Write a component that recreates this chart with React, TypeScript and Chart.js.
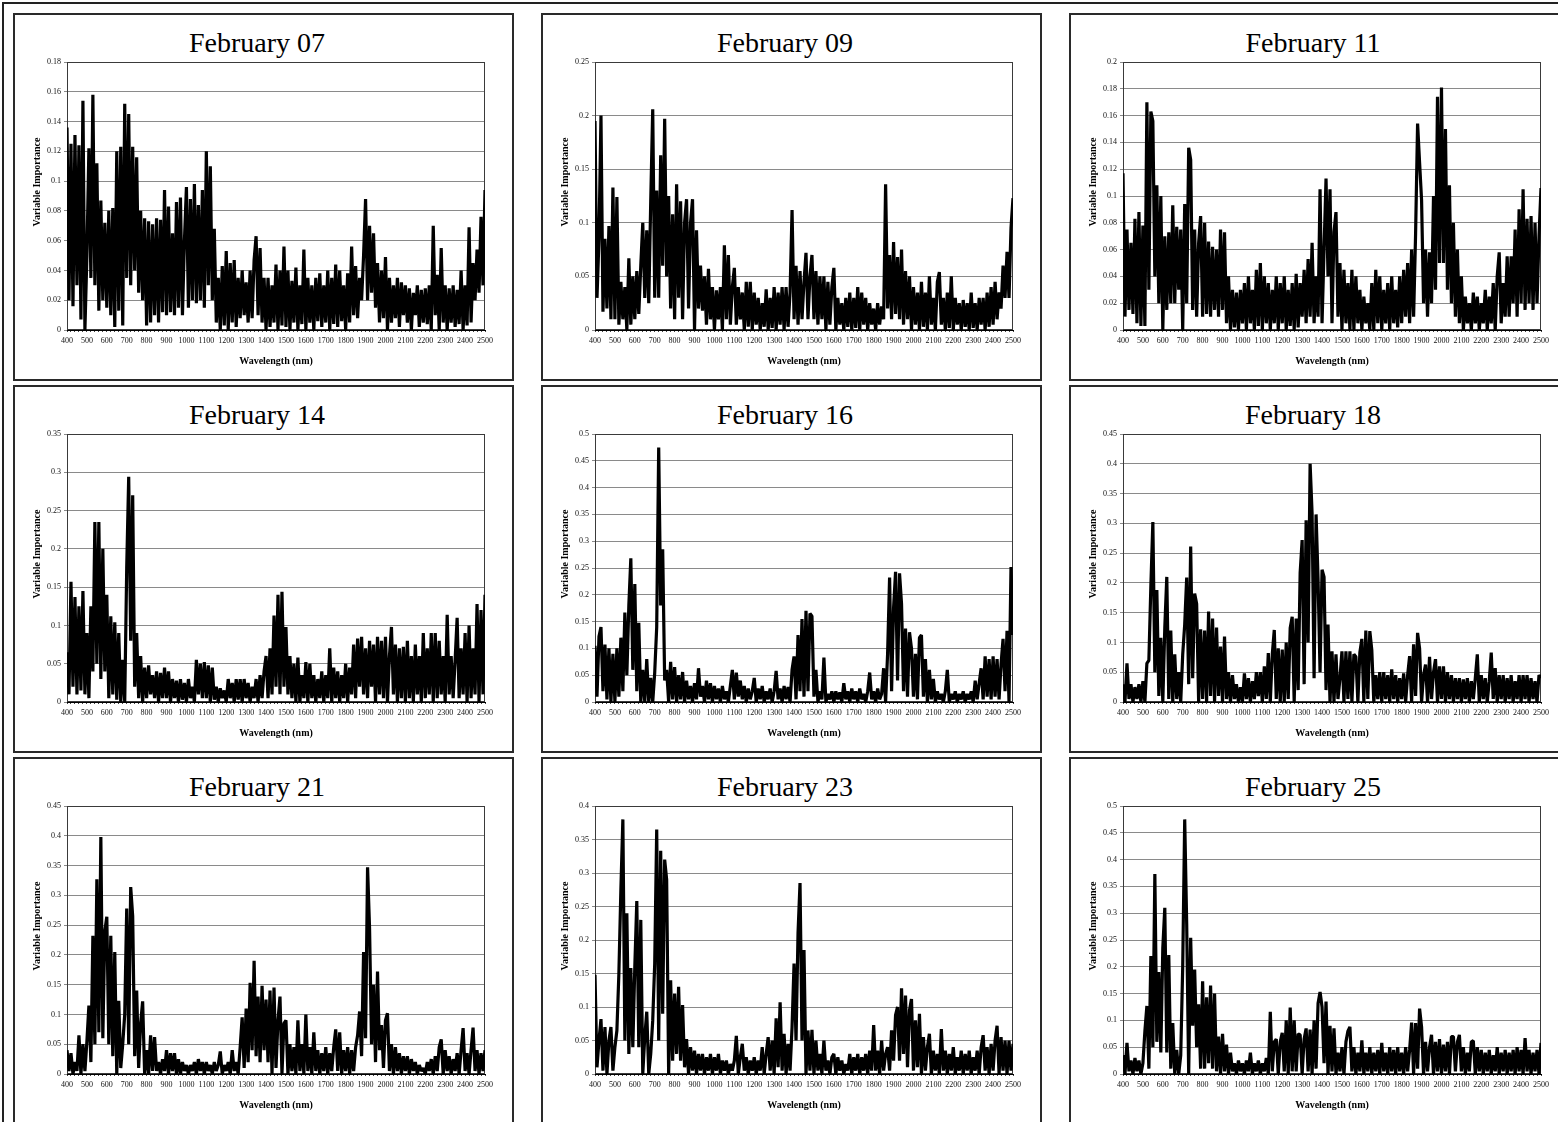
import React, { useEffect, useRef } from "react";
import { Chart, registerables } from "chart.js";

Chart.register(...registerables);

// ---------- data ----------
const START_NM = 400;
const STEP_NM = 10;
const POINT_COUNT = 211; // 400 .. 2500 nm
const WAVELENGTHS: number[] = Array.from({ length: POINT_COUNT }, (_, i) => START_NM + i * STEP_NM);

const TITLES = [
  "February 07", "February 09", "February 11",
  "February 14", "February 16", "February 18",
  "February 21", "February 23", "February 25",
];
const Y_MAX = [0.18, 0.25, 0.2, 0.35, 0.5, 0.45, 0.45, 0.4, 0.5];
const Y_STEP = [0.02, 0.05, 0.02, 0.05, 0.05, 0.05, 0.05, 0.05, 0.05];
const X_AXIS_TITLE = "Wavelength (nm)";
const Y_AXIS_TITLE = "Variable Importance";

const FEB07 = [
  .136,.02,.125,.016,.131,.03,.124,.007,.154,0,
  .05,.122,.035,.158,.03,.112,.013,.087,.02,.072,
  .015,.08,.01,.082,.002,.12,.013,.123,.003,.152,
  .035,.145,.03,.123,.04,.116,.025,.08,.02,.075,
  .003,.073,.005,.071,.01,.075,.005,.074,.012,.094,
  .01,.083,.012,.065,.01,.086,.015,.089,.01,.06,
  .096,.015,.088,.02,.098,.018,.084,.02,.094,.015,
  .12,.03,.11,.02,.068,.005,.035,0,.043,.003,
  .053,0,.045,.005,.047,.002,.035,.008,.04,.01,
  .032,.005,.04,.008,.047,.063,.01,.055,.005,.035,
  0,.035,.002,.03,.005,.044,0,.04,.003,.056,
  .002,.04,0,.033,.005,.042,0,.03,.004,.054,
  0,.035,.005,.03,0,.035,.006,.038,.002,.03,
  .005,.04,0,.035,.004,.044,.002,.04,.006,.03,
  0,.038,.005,.056,.01,.043,.008,.035,.02,.05,
  .088,.02,.07,.025,.065,.015,.045,.005,.04,.008,
  .049,0,.035,.005,.03,.008,.035,.002,.032,.01,
  .03,.005,.028,0,.025,.01,.03,.002,.027,.005,
  .028,.004,.03,0,.07,.01,.037,0,.055,.005,
  .03,0,.028,.005,.03,.002,.027,.004,.04,0,
  .03,.003,.069,.005,.045,.02,.054,.025,.076,.03,
  .094,
];

const FEB09 = [
  .195,.03,.085,.2,.017,.085,.02,.097,.01,.133,
  .01,.124,.005,.045,.01,.04,0,.067,.005,.05,
  .01,.055,.015,.06,.1,.03,.093,.025,.12,.206,
  .03,.13,.03,.163,.06,.197,.05,.125,.02,.108,
  .01,.136,.03,.12,.01,.1,.122,.02,.1,.122,
  0,.093,.02,.06,.018,.05,.005,.057,.01,.04,
  0,.037,.01,.04,0,.079,.01,.07,.005,.04,
  .058,.005,.04,.01,.035,0,.045,.003,.045,0,
  .035,.005,.03,0,.025,.003,.038,0,.03,.002,
  .04,0,.035,.005,.04,0,.04,.003,.035,.112,
  .01,.06,.005,.055,.01,.045,.072,.01,.05,.07,
  .01,.055,.005,.05,.01,.05,0,.045,.005,.04,
  .058,0,.03,.005,.025,0,.03,.003,.035,0,
  .03,.002,.04,0,.035,.005,.03,0,.025,.005,
  .02,0,.025,.005,.022,.01,.136,.02,.07,.01,
  .082,.015,.068,.01,.075,.005,.055,.01,.05,0,
  .04,.005,.035,0,.045,.003,.035,0,.05,.005,
  .03,0,.045,.054,.005,.03,0,.035,.002,.05,
  0,.03,.005,.025,0,.028,.003,.025,0,.035,
  .002,.025,0,.03,.005,.03,0,.035,.003,.04,
  .005,.045,.01,.035,.02,.06,.03,.073,.03,.095,
  .123,
];

const FEB11 = [
  .117,.01,.075,.015,.065,.012,.083,.005,.088,.003,
  .078,.003,.17,.03,.163,.156,.04,.108,.02,.1,
  0,.07,.015,.073,.02,.093,.02,.077,.03,.075,
  0,.094,.02,.136,.127,.015,.075,.01,.065,.085,
  .01,.08,.012,.066,.01,.062,.015,.06,.01,.075,
  .015,.073,.005,.04,0,.03,.002,.028,0,.03,
  .005,.035,0,.04,.005,.03,0,.045,.003,.05,
  0,.04,.005,.035,0,.03,.005,.04,0,.035,
  .005,.04,0,.03,.003,.035,0,.042,.002,.035,
  .01,.045,.005,.053,.01,.065,.005,.04,.01,.105,
  .005,.06,.113,.04,.105,.005,.073,.088,.01,.05,
  0,.045,.005,.035,0,.045,0,.04,.005,.03,
  0,.025,.005,.02,0,.035,0,.045,.005,.04,
  0,.03,.005,.035,0,.04,.005,.03,.002,.04,
  .005,.045,.01,.05,.005,.06,.01,.072,.154,.125,
  .097,.02,.06,.01,.058,.02,.1,.03,.174,.05,
  .181,.05,.15,.03,.108,.02,.08,.01,.06,.005,
  .04,0,.025,.005,.02,0,.028,.005,.025,0,
  .02,.005,.03,0,.025,.005,.035,0,.04,.058,
  .005,.035,.01,.055,.01,.055,.02,.075,.01,.09,
  .02,.105,.015,.083,.02,.085,.015,.08,.02,.07,
  .106,
];

const FEB14 = [
  .065,.01,.157,.02,.137,.01,.125,.015,.145,.01,
  .09,.005,.125,.04,.235,.05,.235,.03,.2,.04,
  .14,.005,.112,.01,.104,.003,.09,0,.055,0,
  .175,.294,.08,.27,.02,.09,.005,.06,0,.045,
  .005,.048,.01,.035,.005,.04,0,.038,.005,.045,
  .005,.04,0,.03,.005,.028,0,.03,.003,.025,
  0,.03,.005,.02,0,.055,.01,.05,.005,.052,
  .005,.048,0,.045,.003,.02,0,.018,.005,.015,
  0,.03,.005,.025,0,.03,.003,.03,0,.03,
  .005,.025,0,.02,.005,.03,0,.035,.005,.04,
  .06,.005,.07,.01,.113,.02,.14,.01,.144,.02,
  .098,.01,.06,.005,.05,0,.058,0,.035,.005,
  .052,0,.05,.005,.035,0,.03,.005,.04,0,
  .035,.005,.07,0,.045,.005,.04,0,.035,.005,
  .05,0,.045,.01,.075,.005,.083,.02,.085,.01,
  .07,.005,.08,.02,.075,0,.085,.01,.08,.005,
  .085,0,.06,.098,.01,.075,0,.07,.005,.072,
  0,.08,.005,.06,0,.075,.01,.06,0,.09,
  .005,.07,.01,.09,0,.09,.005,.08,.01,.06,
  0,.114,.01,.06,.005,.055,.11,.005,.07,.01,
  .09,0,.1,.005,.07,.01,.128,0,.12,.01,
  .14,
];

const FEB16 = [
  .105,.01,.122,.14,.02,.107,.005,.1,0,.09,
  0,.1,.01,.12,.02,.167,.05,.18,.268,.06,
  .22,.02,.148,0,.06,0,.08,0,.045,0,
  .055,.14,.475,.18,.285,.04,.06,0,.075,.005,
  .065,0,.05,.005,.056,0,.04,.005,.03,0,
  .035,.005,.063,.01,.03,0,.04,.005,.035,0,
  .03,.005,.025,0,.03,.005,.02,0,.03,.06,
  .005,.055,.01,.04,.005,.03,0,.025,.005,.02,
  .045,0,.025,.005,.03,0,.02,.005,.025,0,
  .02,.058,.005,.025,0,.03,.005,.028,0,.06,
  .085,.005,.125,.02,.155,.01,.17,.02,.165,.16,
  .01,.06,0,.02,.005,.083,0,.015,.005,.02,
  0,.02,.005,.018,0,.035,.005,.02,0,.025,
  .005,.02,0,.025,.005,.015,0,.02,.055,.005,
  .02,0,.025,.005,.015,.063,0,.09,.232,.02,
  .175,.243,.04,.24,.183,.02,.137,.01,.13,.1,
  .01,.09,.005,.12,.125,.01,.08,0,.06,.005,
  .043,0,.02,.005,.015,0,.02,.06,0,.015,
  .005,.02,0,.015,.005,.02,0,.015,.005,.02,
  0,.04,.005,.035,.063,.005,.085,.01,.08,.005,
  .085,.01,.08,.005,.07,.118,.02,.133,0,.252,
  .125,
];

const FEB18 = [
  .03,0,.065,.005,.03,0,.025,.005,.03,0,
  .035,0,.065,.07,.195,.302,.05,.188,.01,.108,
  0,.125,.21,.005,.12,0,.08,.005,.05,0,
  .08,.13,.209,.03,.261,.04,.182,.165,0,.122,
  .005,.12,0,.152,.01,.14,0,.125,.01,.093,
  0,.11,.005,.05,0,.045,.005,.03,0,.025,
  0,.048,.005,.04,0,.035,.005,.05,.01,.05,
  0,.06,.005,.082,0,.08,.121,.005,.09,0,
  .088,0,.1,.005,.124,.143,0,.14,.02,.217,
  .272,.03,.305,.1,.4,.316,.04,.315,.205,.05,
  .222,.21,.02,.13,0,.085,0,.08,.005,.04,
  .085,0,.085,.005,.085,0,.08,.076,0,.083,
  .106,0,.12,.005,.119,.087,0,.045,.005,.05,
  0,.05,.005,.045,0,.055,.005,.045,0,.04,
  .005,.048,0,.045,.077,0,.097,.01,.116,.09,
  0,.045,.063,0,.076,.005,.05,.072,0,.06,
  .005,.06,0,.05,.005,.045,0,.04,.005,.04,
  0,.038,.005,.04,0,.035,.005,.04,.08,0,
  .045,.005,.04,0,.035,.083,.005,.057,0,.045,
  .005,.045,0,.04,.005,.045,0,.035,.005,.045,
  0,.045,.005,.045,0,.04,.005,.035,0,.045,
  .04,
];

const FEB21 = [
  .04,.005,.035,0,.02,.005,.065,0,.05,.005,
  .055,.115,.02,.232,.05,.327,.07,.398,.06,.24,
  .264,.05,.232,.03,.205,0,.123,.01,.05,.1,
  .278,.05,.314,.265,.03,.14,.01,.085,.122,0,
  .04,0,.065,.005,.062,.005,.02,0,.025,.005,
  .04,0,.035,.005,.035,0,.025,0,.02,.005,
  .015,0,.015,.005,.02,0,.025,.005,.02,0,
  .02,.005,.015,0,.02,.005,.015,.038,0,.015,
  .005,.02,0,.04,.005,.02,0,.045,.095,.01,
  .11,.02,.153,.04,.19,.03,.13,.02,.148,.04,
  .125,.02,.14,0,.145,.01,.09,.13,0,.085,
  .09,0,.05,.005,.045,0,.09,.005,.05,0,
  .1,.005,.045,0,.07,.005,.04,0,.035,.005,
  .045,0,.035,.005,.045,.075,.005,.07,0,.04,
  .005,.045,0,.04,.005,.045,.065,.105,.03,.205,
  .06,.347,.245,.05,.15,.02,.172,.04,.082,.01,
  .09,.102,.005,.05,0,.045,.005,.035,0,.03,
  .005,.03,0,.025,.005,.02,0,.015,.005,.01,
  0,.02,.005,.025,0,.03,.005,.045,.058,0,
  .04,.005,.03,0,.025,.005,.035,0,.04,.077,
  .005,.035,0,.04,.078,.005,.04,0,.035,.005,
  .04,
];

const FEB23 = [
  .148,.01,.05,.082,.005,.07,0,.05,.07,.005,
  .04,.065,.15,.275,.38,.05,.24,.03,.158,.04,
  .16,.258,.04,.23,0,.055,.093,0,.03,.08,
  .165,.365,.05,.333,.09,.32,.29,0,.14,.02,
  .12,.03,.13,.02,.103,.01,.052,0,.04,.005,
  .035,0,.03,.005,.03,0,.025,.005,.03,0,
  .025,.005,.03,0,.02,.005,.02,0,.015,.005,
  .02,.057,0,.025,.045,.005,.025,0,.02,.005,
  .025,0,.02,.005,.04,0,.03,.055,.005,.05,
  0,.083,.01,.107,.005,.06,0,.045,.005,.07,
  .165,.05,.21,.285,.05,.185,0,.065,.005,.066,
  0,.05,.005,.03,0,.05,.005,.02,0,.025,
  .03,0,.025,.005,.02,0,.015,.005,.03,0,
  .025,.005,.03,0,.025,.005,.03,0,.035,.005,
  .073,.005,.035,0,.05,.005,.03,.04,.005,.065,
  .02,.088,.1,.02,.128,.03,.117,.01,.095,.112,
  .005,.08,.01,.09,0,.055,.005,.04,.06,0,
  .035,.005,.03,0,.067,.005,.035,0,.03,.005,
  .04,0,.025,.005,.035,0,.03,.005,.035,0,
  .025,.005,.035,0,.04,.058,.005,.04,0,.045,
  .005,.05,.072,0,.055,.005,.05,0,.05,.005,
  .045,
];

const FEB25 = [
  .035,0,.058,.005,.025,0,.03,.005,.025,0,
  .02,.08,.127,.01,.22,.05,.373,.06,.19,.04,
  .235,.31,.04,.222,.01,.095,0,.045,0,.035,
  .2,.475,.28,0,.254,.09,.195,.05,.13,.01,
  .173,.01,.143,.02,.165,.01,.15,.005,.07,0,
  .075,.005,.055,0,.04,.005,.02,0,.025,.005,
  .02,0,.025,.005,.04,0,.02,.005,.025,0,
  .02,.005,.03,0,.116,.005,.06,.065,0,.06,
  .077,.005,.1,0,.124,.005,.1,.005,.075,.073,
  0,.065,.085,.005,.083,0,.1,.01,.132,.153,
  .125,.02,.135,0,.09,.005,.085,0,.04,.005,
  .05,0,.06,.08,.088,.005,.05,0,.04,.005,
  .063,0,.04,.005,.05,0,.04,.005,.045,0,
  .058,.005,.04,0,.05,.005,.045,0,.05,.005,
  .04,0,.05,.005,.045,.096,0,.095,.01,.122,
  .088,0,.06,.005,.05,.073,0,.06,.005,.065,
  0,.055,.005,.06,0,.07,.07,.005,.06,.073,
  .005,.05,0,.04,.005,.06,.062,0,.05,.005,
  .045,0,.04,.005,.045,0,.035,.005,.05,0,
  .04,.005,.045,0,.04,.005,.045,0,.05,.005,
  .045,0,.067,.005,.045,0,.04,.005,.045,0,
  .058,
];

const SERIES = [FEB07, FEB09, FEB11, FEB14, FEB16, FEB18, FEB21, FEB23, FEB25];

// ---------- layout ----------
const COL_X = [14, 542, 1070];
const ROW_Y = [14, 386, 758];
const CANVAS_W = 486;
const CANVAS_H = 366;
const SERIF = '"Liberation Serif", "Times New Roman", Times, serif';

const framePlugin = {
  id: "plotFrame",
  beforeDatasetsDraw(chart: any) {
    const { ctx, chartArea: a } = chart;
    ctx.save();
    ctx.strokeStyle = "#3a3a3a";
    ctx.lineWidth = 1;
    ctx.strokeRect(a.left + 0.5, a.top + 0.5, a.right - a.left - 1, a.bottom - a.top - 1);
    ctx.restore();
  },
};

// y-axis title, drawn a little above the centre of the axis as in the source
const yTitlePlugin = {
  id: "yTitle",
  afterDraw(chart: any) {
    const { ctx, chartArea: a } = chart;
    ctx.save();
    ctx.translate(23, (a.top + a.bottom) / 2 - 14);
    ctx.rotate(-Math.PI / 2);
    ctx.font = `bold 10px ${SERIF}`;
    ctx.fillStyle = "#000";
    ctx.textAlign = "center";
    ctx.textBaseline = "middle";
    ctx.fillText(Y_AXIS_TITLE, 0, 0);
    ctx.restore();
  },
};

const fmt = (v: any) => String(Number(Number(v).toFixed(3)));

function Panel({ idx }: { idx: number }) {
  const ref = useRef<HTMLCanvasElement>(null);
  const col = idx % 3;
  const row = Math.floor(idx / 3);
  const left = COL_X[col];
  const top = ROW_Y[row];

  useEffect(() => {
    const values = SERIES[idx];
    const chart = new Chart(ref.current as HTMLCanvasElement, {
      type: "line",
      data: {
        datasets: [
          {
            data: values.map((v, i) => ({ x: WAVELENGTHS[i], y: v })),
            borderColor: "#000",
            borderWidth: 3.2,
            borderJoinStyle: "bevel",
            pointRadius: 0,
            tension: 0,
            fill: false,
          },
        ],
      },
      options: {
        animation: false,
        responsive: false,
        maintainAspectRatio: false,
        events: [],
        layout: { padding: { left: 0, right: 15, top: 48, bottom: 0 } },
        plugins: {
          legend: { display: false },
          tooltip: { enabled: false },
          title: { display: false },
        },
        scales: {
          x: {
            type: "linear",
            min: 400,
            max: 2500,
            ticks: {
              stepSize: 20,
              autoSkip: false,
              maxRotation: 0,
              minRotation: 0,
              padding: 4,
              color: "#111",
              font: { family: SERIF, size: 8 },
              callback: (v: any) => (Number(v) % 100 === 0 ? String(v) : ""),
            },
            grid: { drawOnChartArea: false, drawTicks: true, tickLength: 2, color: "#444" },
            border: { display: true, color: "#000", width: 1 },
            title: {
              display: true,
              text: X_AXIS_TITLE,
              color: "#000",
              font: { family: SERIF, size: 10, weight: "bold" },
              padding: { top: 0, bottom: 13 },
            },
            afterFit: (s: any) => {
              s.height = 50;
            },
          },
          y: {
            min: 0,
            max: Y_MAX[idx],
            ticks: {
              stepSize: Y_STEP[idx],
              padding: 3,
              color: "#111",
              font: { family: SERIF, size: 8 },
              callback: fmt,
            },
            grid: { color: "#8a8a8a", lineWidth: 1, drawTicks: true, tickLength: 3 },
            border: { display: true, color: "#000", width: 1 },
            title: { display: false },
            afterFit: (s: any) => {
              s.width = 53;
            },
          },
        },
      } as any,
      plugins: [framePlugin, yTitlePlugin],
    });
    return () => chart.destroy();
  }, [idx]);

  return (
    <>
      <div
        style={{
          position: "absolute",
          left: left - 1,
          top: top - 1,
          width: 501,
          height: 368,
          border: "2px solid #2a2a2a",
          boxSizing: "border-box",
        }}
      />
      <div
        style={{
          position: "absolute",
          left,
          top: top + 14.6,
          width: CANVAS_W,
          textAlign: "center",
          fontFamily: SERIF,
          fontSize: 28,
          lineHeight: "28px",
          color: "#000",
          whiteSpace: "nowrap",
        }}
      >
        {TITLES[idx]}
      </div>
      <canvas
        ref={ref}
        width={CANVAS_W}
        height={CANVAS_H}
        style={{ position: "absolute", left, top, width: CANVAS_W, height: CANVAS_H }}
      />
    </>
  );
}

export default function App() {
  return (
    <div
      style={{
        position: "fixed",
        left: 0,
        top: 0,
        width: 1558,
        height: 1122,
        overflow: "hidden",
        background: "#fff",
      }}
    >
      <div
        style={{
          position: "absolute",
          left: 2,
          top: 2,
          width: 2000,
          height: 2000,
          borderLeft: "2px solid #222",
          borderTop: "2px solid #222",
        }}
      />
      {TITLES.map((_, i) => (
        <Panel key={i} idx={i} />
      ))}
    </div>
  );
}
